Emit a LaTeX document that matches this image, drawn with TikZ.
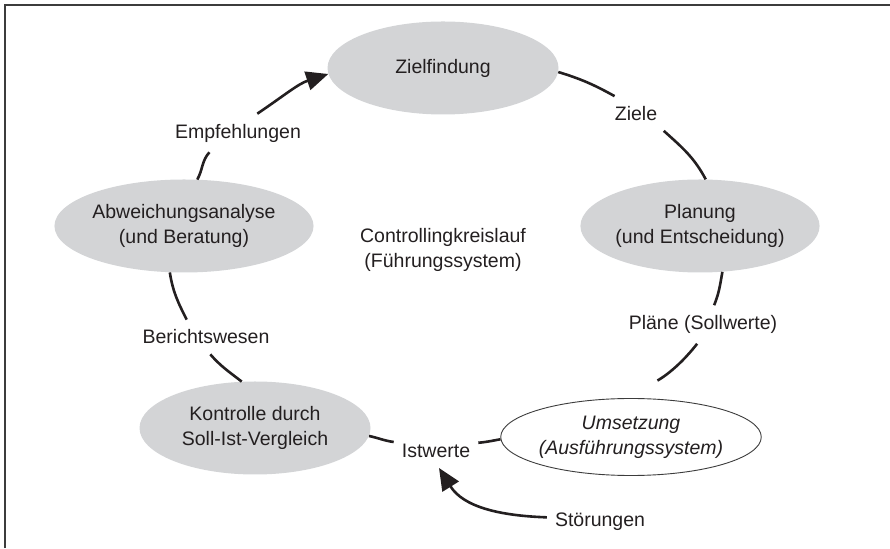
\documentclass[tikz,border=0pt]{standalone}
\usepackage{fontspec}
\setmainfont{Liberation Sans}
\usetikzlibrary{shapes.geometric,arrows.meta}
\definecolor{ink}{RGB}{35,31,32}
\definecolor{stagefill}{RGB}{211,212,214}
\definecolor{rimgray}{RGB}{60,60,60}

\begin{document}
\begin{tikzpicture}[x=1pt,y=1pt,
  every node/.style={font=\fontsize{19.5}{25}\selectfont, text=ink, align=center},
  stage/.style={ellipse, fill=stagefill, inner sep=0pt, minimum width=231pt, minimum height=93pt},
  execstage/.style={ellipse, draw=rimgray, line width=0.9pt, fill=white, inner sep=0pt,
    minimum width=232pt, minimum height=77pt, font=\fontsize{19.5}{25}\selectfont\itshape},
  flowlabel/.style={inner xsep=8pt, inner ysep=10pt},
  flow/.style={draw=ink, line width=2.6pt},
  head/.style={-{Triangle[length=22pt,width=19pt]}},
  framing/.style={draw=rimgray, line width=1.6pt}
]
\useasboundingbox (0,0) rectangle (890,548);

% open frame: left and top edge
\draw[framing] (4.7,0) -- (4.7,543) -- (890,543);

% stages of the control loop
\node[stage] (zf)   at (443,480) {Zielfindung};
\node[stage, minimum width=226pt] (plan) at (700,322) {Planung\\(und Entscheidung)};
\node[stage] (abw)  at (184,322) {Abweichungsanalyse\\(und Beratung)};
\node[stage] (kon)  at (255,120) {Kontrolle durch\\Soll-Ist-Vergleich};
\node[execstage] (ums) at (631,111) {Umsetzung\\(Ausführungssystem)};

% centre caption
\node (ctr) at (443,298) {Controllingkreislauf\\(Führungssystem)};

% flow labels
\node[flowlabel] (ziele)  at (636,434.5) {Ziele};
\node[flowlabel] (plaene) at (703,223.5) {Pläne (Sollwerte)};
\node[flowlabel] (ist)    at (436,97)    {Istwerte};
\node[flowlabel] (ber)    at (206,211)   {Berichtswesen};
\node[flowlabel] (empf)   at (238,415)   {Empfehlungen};
\node[flowlabel] (stoer)  at (600,26)    {Störungen};

% the loop, running clockwise along one large ellipse
\draw[flow] (zf.-2.5) to[out=-17, in=151] (ziele.141);
\draw[flow] (ziele.-32) to[out=-42, in=118] (plan.83);
\draw[flow] (plan.-64) to[out=-100, in=68] (plaene.60);
\draw[flow, shorten >=34pt] (plaene.-107) to[out=-128, in=31] (ums.94);
\draw[flow] (ums.181.5) to[out=190, in=5] (ist.11);
\draw[flow] (ist.168) to[out=172, in=-12] (kon.-4.6);
\draw[flow] (kon.106) to[out=142, in=-49] (ber.-76);
\draw[flow] (ber.138) to[out=117, in=-81] (abw.-107);
\draw[flow] (abw.74) to[out=61, in=-132] (empf.-146);
\draw[flow, head] (empf.45) to[out=34, in=198] (zf.183.6);

% disturbance acting on the actual values
\draw[flow, head] (stoer.175) to[out=178, in=-58] (ist.-80);
\end{tikzpicture}
\end{document}
